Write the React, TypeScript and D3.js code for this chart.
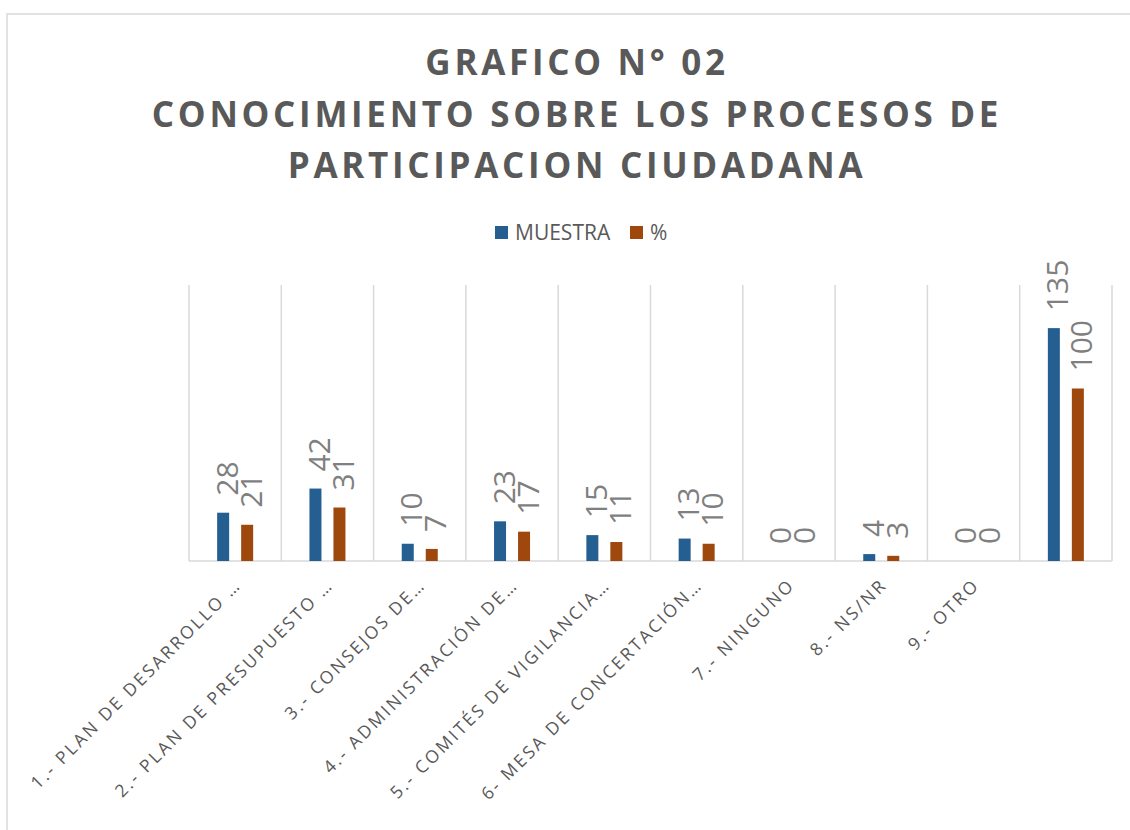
import React from 'react';
import * as d3 from 'd3';

const categories = [
  '1.- PLAN DE DESARROLLO …',
  '2.- PLAN DE PRESUPUESTO …',
  '3.- CONSEJOS DE…',
  '4.- ADMINISTRACIÓN DE…',
  '5.- COMITÉS DE VIGILANCIA…',
  '6- MESA DE CONCERTACIÓN…',
  '7.- NINGUNO',
  '8.- NS/NR',
  '9.- OTRO',
  '',
];
const muestra = [28, 42, 10, 23, 15, 13, 0, 4, 0, 135];
const porcentaje = [21, 31, 7, 17, 11, 10, 0, 3, 0, 100];
const seriesNames = ['MUESTRA', '%'];
const seriesColors = ['#255e91', '#9e480e'];
const titleLines = ['GRAFICO N° 02', 'CONOCIMIENTO SOBRE LOS PROCESOS DE', 'PARTICIPACION CIUDADANA'];

const W = 1130;
const H = 830;
const left = 189;
const right = 1112;
const top = 285;
const bottom = 561;

const App = () => {
  const ids = categories.map((_, i) => String(i));
  const x = d3.scaleBand<string>().domain(ids).range([left, right]).padding(0);
  const inner = d3.scaleBand<string>().domain(seriesNames).range([-18, 18]).paddingInner(0.5);
  const y = d3.scaleLinear().domain([0, 160]).range([bottom, top]);
  const series = [muestra, porcentaje];

  // gridlines at category edges
  const edges = ids.map((id) => x(id)!).concat([right]);

  return (
    <svg width={W} height={H} style={{ position: 'absolute', left: 0, top: 0, background: '#fff' }}
      fontFamily="'Open Sans', sans-serif">
      <rect x={7} y={14} width={1200} height={900} fill="#fff" stroke="#d9d9d9" strokeWidth={1.5} />

      {titleLines.map((t, i) => (
        <text key={i} x={577} y={75 + i * 51.5} textAnchor="middle" fontSize={35} fontWeight="bold"
          fill="#595959" letterSpacing={3.7}>{t}</text>
      ))}

      {/* legend */}
      <g fontSize={21} fill="#595959">
        <rect x={495} y={226} width={13} height={13} fill={seriesColors[0]} />
        <text x={515} y={232} dominantBaseline="central">{seriesNames[0]}</text>
        <rect x={630} y={226} width={13} height={13} fill={seriesColors[1]} />
        <text x={650} y={232} dominantBaseline="central">{seriesNames[1]}</text>
      </g>

      {edges.map((ex, i) => (
        <line key={i} x1={ex} x2={ex} y1={top} y2={bottom} stroke="#d9d9d9" strokeWidth={1.5} />
      ))}
      <line x1={left} x2={right} y1={bottom} y2={bottom} stroke="#d9d9d9" strokeWidth={1.5} />

      {series.map((vals, s) => (
        <g key={s}>
          {vals.map((v, i) => {
            const cx = x(ids[i])! + x.bandwidth() / 2;
            const bx = cx + inner(seriesNames[s])!;
            return (
              <rect key={i} x={bx} y={y(v)} width={inner.bandwidth()} height={bottom - y(v)}
                fill={seriesColors[s]} />
            );
          })}
        </g>
      ))}

      {series.map((vals, s) => (
        <g key={'l' + s} fontSize={30} fill="#7f7f7f">
          {vals.map((v, i) => {
            const cx = x(ids[i])! + x.bandwidth() / 2;
            const lx = cx + inner(seriesNames[s])! + inner.bandwidth() / 2 + 3;
            const ly = y(v) - 17;
            return (
              <text key={i} x={lx} y={ly} transform={`rotate(-90, ${lx}, ${ly})`}
                dominantBaseline="central">{v}</text>
            );
          })}
        </g>
      ))}

      {/* category labels */}
      <g fontSize={17.5} fill="#595959" letterSpacing={2.5}>
        {categories.map((c, i) => {
          const cx = x(ids[i])! + x.bandwidth() / 2;
          const ax = cx + 7;
          const ay = 586;
          return (
            <text key={i} x={ax} y={ay} textAnchor="end"
              transform={`rotate(-45, ${ax}, ${ay})`}>{c}</text>
          );
        })}
      </g>
    </svg>
  );
};

export default App;
